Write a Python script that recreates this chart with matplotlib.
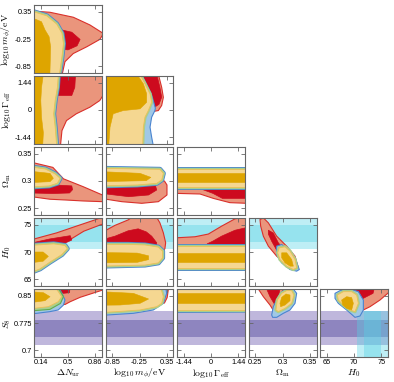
import matplotlib
matplotlib.use("Agg")
import matplotlib.pyplot as plt
from matplotlib.patches import Polygon

plt.rcParams['mathtext.fontset'] = 'cm'
plt.rcParams['axes.unicode_minus'] = False

# ---------------- parameters / axes ----------------
params = ["dN", "logm", "logG", "Om", "H0", "S8"]
param_labels = [r"$\Delta N_{\rm ur}$", r"$\log_{10} m_\phi/{\rm eV}$", r"$\log_{10}\Gamma_{\rm eff}$",
                r"$\Omega_{\rm m}$", r"$H_0$", r"$S_8$"]
param_lims = [(0.05, 0.95), (-1.0, 0.5), (-1.8, 1.8), (0.2375, 0.3625), (63.75, 76.25), (0.68125, 0.86875)]
param_ticks = [[0.14, 0.5, 0.86], [-0.85, -0.25, 0.35], [-1.44, 0, 1.44],
               [0.25, 0.3, 0.35], [65, 70, 75], [0.7, 0.775, 0.85]]
param_ticklabels = [["0.14", "0.5", "0.86"], ["-0.85", "-0.25", "0.35"], ["-1.44", "0", "1.44"],
                    ["0.25", "0.3", "0.35"], ["65", "70", "75"], ["0.7", "0.775", "0.85"]]

# external priors (bands)
H0_1sig = (71.9, 74.9)
H0_2sig = (70.6, 76.3)
S8_1sig = (0.736, 0.783)
S8_2sig = (0.714, 0.808)

# ---------------- contours (data units) ----------------
# row 1: log10 m_phi vs dN
dN_m_red95 = [(0.0, 0.37), (0.26, 0.34), (0.57, 0.23), (0.79, 0.06), (0.97, -0.13), (0.92, -0.26), (0.75, -0.42),
              (0.57, -0.57), (0.46, -0.75), (0.42, -1.05), (0.0, -1.05)]
dN_m_red68 = [(0.30, 0.0), (0.46, -0.067), (0.55, -0.10), (0.66, -0.26), (0.62, -0.40), (0.50, -0.49), (0.30, -0.45)]
dN_m_yel95 = [(0.0, 0.36), (0.05, 0.35), (0.22, 0.26), (0.35, 0.08), (0.42, -0.125), (0.44, -0.35), (0.42, -0.64),
              (0.385, -1.05), (0.0, -1.05)]
dN_m_yel68 = [(0.0, 0.20), (0.05, 0.20), (0.15, 0.13), (0.196, -0.05), (0.25, -0.20), (0.27, -0.42), (0.26, -1.05),
              (0.0, -1.05)]

# row 2: log10 Gamma vs dN, logm
dN_G_red95 = [(0.0, 1.9), (0.96, 1.9), (0.96, 0.75), (0.92, 0.5), (0.79, 0.15), (0.61, -0.2), (0.48, -0.56),
              (0.42, -1.09), (0.40, -1.9), (0.0, -1.9)]
dN_G_red68 = [(0.35, 1.9), (0.60, 1.9), (0.59, 1.2), (0.55, 0.77), (0.35, 0.77)]
dN_G_yel95 = [(0.0, 1.9), (0.372, 1.9), (0.36, 1.2), (0.33, 0.5), (0.31, -0.2), (0.33, -0.9), (0.35, -1.9), (0.0, -1.9)]
dN_G_yel68 = [(0.0, 1.9), (0.174, 1.9), (0.15, 1.2), (0.14, 0.5), (0.15, -0.4), (0.174, -1.2), (0.165, -1.9),
              (0.0, -1.9)]

m_G_red95 = [(-0.3, 1.9), (0.165, 1.9), (0.239, 1.2), (0.276, 0.67), (0.239, 0.24), (0.165, -0.03), (0.0, -0.1),
             (-0.3, -0.3)]
m_G_red68 = [(-0.3, 1.9), (0.13, 1.9), (0.20, 1.2), (0.24, 0.68), (0.18, 0.3), (0.05, 0.1), (-0.3, 0.0)]
m_G_blue95 = [(-1.1, 1.9), (-0.21, 1.9), (-0.10, 1.385), (0.01, 0.856), (0.06, 0.45), (0.10, 0.1), (0.09, -0.03),
              (0.018, -0.38), (-0.018, -0.909), (0.018, -1.44), (0.055, -1.9), (-1.1, -1.9)]
m_G_yel95 = [(-1.1, 1.9), (-0.239, 1.9), (-0.129, 1.385), (-0.018, 0.856), (0.018, 0.41), (-0.055, -0.027),
             (-0.129, -0.38), (-0.165, -0.909), (-0.18, -1.9), (-1.1, -1.9)]
m_G_yel68 = [(-1.1, 1.9), (-0.31, 1.9), (-0.165, 1.385), (-0.092, 0.856), (-0.092, 0.41), (-0.239, 0.06),
             (-0.607, -0.03), (-0.83, -0.2), (-0.90, -0.91), (-0.93, -1.9), (-1.1, -1.9)]

# row 3: Omega_m
dN_Om_red95 = [(0.0, 0.335), (0.30, 0.325), (0.44, 0.304), (0.70, 0.2896), (0.96, 0.274), (0.96, 0.262),
               (0.70, 0.2633), (0.48, 0.265), (0.26, 0.2665), (0.0, 0.2715)]
dN_Om_red68 = [(0.0, 0.295), (0.55, 0.291), (0.56, 0.284), (0.52, 0.278), (0.30, 0.277), (0.0, 0.278)]
dN_Om_yel95 = [(0.0, 0.326), (0.20, 0.322), (0.33, 0.313), (0.395, 0.305), (0.36, 0.296), (0.25, 0.291),
               (0.0, 0.289)]
dN_Om_yel68 = [(0.0, 0.318), (0.262, 0.314), (0.306, 0.305), (0.262, 0.2988), (0.0, 0.297)]

m_Om_red95 = [(-1.1, 0.30), (0.3, 0.30), (0.356, 0.2927), (0.356, 0.2743), (0.167, 0.262), (-0.2, 0.259),
              (-0.64, 0.262), (-1.1, 0.268)]
m_Om_red68 = [(-1.1, 0.292), (0.10, 0.292), (0.13, 0.2835), (-0.05, 0.2743), (-0.49, 0.2712), (-1.1, 0.2773)]
m_Om_yel95 = [(-1.1, 0.3233), (0.20, 0.3215), (0.276, 0.3141), (0.24, 0.302), (0.13, 0.2957), (-0.3, 0.2927),
              (-1.1, 0.291)]
m_Om_yel68 = [(-1.1, 0.3172), (-0.24, 0.3141), (0.0, 0.3067), (-0.1, 0.3006), (-1.1, 0.2988)]

G_Om_red95 = [(-1.9, 0.295), (1.9, 0.295), (1.9, 0.259), (1.0, 0.2602), (0.12, 0.2681), (-0.58, 0.2761),
              (-1.9, 0.2773)]
G_Om_red68 = [(-0.5, 0.2865), (1.9, 0.2865), (1.9, 0.2681), (0.6, 0.2681), (0.1, 0.2773), (-0.5, 0.2850)]
G_Om_yel95 = [(-1.9, 0.3215), (1.9, 0.3215), (1.9, 0.2896), (-1.9, 0.2896)]
G_Om_yel68 = [(-1.9, 0.314), (1.9, 0.314), (1.9, 0.2988), (-1.9, 0.2988)]

# row 4: H0
dN_H0_red95 = [(0.0, 72.2), (0.35, 73.52), (0.61, 74.75), (0.87, 75.97), (0.97, 76.5), (0.97, 75.2), (0.71, 73.83),
               (0.53, 72.3), (0.35, 71.2), (0.17, 70.46), (0.0, 69.7)]
dN_H0_red68 = [(0.0, 71.6), (0.26, 72.4), (0.53, 73.0), (0.55, 72.2), (0.44, 71.5), (0.22, 71.1), (0.0, 70.8)]
dN_H0_yel95 = [(0.0, 71.2), (0.31, 71.5), (0.46, 71.2), (0.49, 70.6), (0.42, 69.54), (0.26, 68.13), (0.13, 66.9),
               (0.0, 66.2)]
dN_H0_yel68 = [(0.0, 70.0), (0.17, 70.0), (0.24, 69.2), (0.17, 68.3), (0.0, 68.0)]

m_H0_red95 = [(-1.1, 73.5), (-0.79, 74.9), (-0.5, 75.9), (-0.4, 76.5), (0.12, 76.5), (0.2, 75.36), (0.276, 73.52),
              (0.327, 71.7), (0.31, 70.6), (0.2, 69.5), (-1.1, 69.5)]
m_H0_red68 = [(-1.1, 72.2), (-0.79, 72.91), (-0.5, 73.9), (-0.28, 74.26), (-0.1, 73.7), (0.02, 72.9),
              (0.13, 71.69), (0.1, 70.5), (-1.1, 70.5)]
m_H0_yel95 = [(-1.1, 71.4), (-0.5, 71.4), (-0.13, 71.3), (0.165, 70.9), (0.26, 70.15), (0.26, 68.93), (0.165, 68.0),
              (-0.13, 67.6), (-1.1, 67.4)]
m_H0_yel68 = [(-1.1, 69.9), (-0.3, 69.8), (-0.05, 69.3), (-0.05, 68.6), (-0.3, 68.1), (-1.1, 68.0)]

G_H0_red95 = [(-1.9, 72.6), (-0.85, 72.8), (-0.14, 73.3), (0.56, 74.75), (1.27, 76.1), (1.9, 76.5), (1.9, 70.5),
              (-1.9, 70.5)]
G_H0_red68 = [(-0.2, 71.5), (0.1, 72.0), (0.56, 72.91), (1.27, 74.0), (1.9, 74.5), (1.9, 70.8), (-0.2, 70.8)]
G_H0_yel95 = [(-1.9, 71.1), (1.9, 71.1), (1.9, 67.1), (-1.9, 67.1)]
G_H0_yel68 = [(-1.9, 69.9), (1.9, 69.9), (1.9, 68.1), (-1.9, 68.1)]

Om_H0_red95 = [(0.2586, 75.97), (0.2648, 76.28), (0.274, 75.36), (0.2893, 72.91), (0.3077, 71.07), (0.323, 69.23),
               (0.3291, 67.09), (0.323, 66.78), (0.3077, 67.7), (0.2893, 69.23), (0.274, 71.07), (0.2648, 72.91),
               (0.2599, 74.75)]
Om_H0_red68 = [(0.274, 74.0), (0.2831, 73.5), (0.2923, 71.69), (0.30, 70.8), (0.31, 69.5), (0.30, 69.0),
               (0.29, 70.2), (0.28, 72.0), (0.274, 73.3)]
Om_H0_blue95 = [(0.2893, 71.07), (0.2985, 71.38), (0.3107, 70.46), (0.323, 68.93), (0.3309, 66.78), (0.326, 66.48),
                (0.3138, 66.78), (0.2985, 68.01), (0.2893, 69.54)]
Om_H0_yel95 = [(0.2942, 70.77), (0.3046, 70.95), (0.3138, 70.15), (0.323, 68.62), (0.326, 67.09), (0.3199, 66.78),
               (0.3077, 67.4), (0.2954, 68.62), (0.2911, 69.85)]
Om_H0_yel68 = [(0.2985, 69.85), (0.3077, 69.85), (0.3168, 68.62), (0.3199, 67.4), (0.3138, 67.4), (0.3046, 68.01),
               (0.2985, 68.93)]

# row 5: S8
dN_S8_red95 = [(0.35, 0.88), (0.96, 0.88), (0.96, 0.866), (0.66, 0.8458), (0.53, 0.8338), (0.46, 0.826),
               (0.35, 0.83)]
dN_S8_red68 = [(0.40, 0.88), (0.53, 0.88), (0.52, 0.8586), (0.44, 0.8568), (0.40, 0.86)]
dN_S8_blue95 = [(0.0, 0.88), (0.36, 0.88), (0.42, 0.8568), (0.46, 0.8384), (0.44, 0.8246), (0.37, 0.8109),
                (0.26, 0.8063), (0.085, 0.8017), (0.0, 0.80)]
dN_S8_green95 = [(0.0, 0.88), (0.34, 0.88), (0.40, 0.8614), (0.44, 0.8476), (0.40, 0.829), (0.26, 0.8125),
                 (0.05, 0.809), (0.0, 0.809)]
dN_S8_yel95 = [(0.0, 0.88), (0.306, 0.88), (0.372, 0.8614), (0.416, 0.8476), (0.372, 0.8338), (0.24, 0.82),
               (0.05, 0.8154), (0.0, 0.815)]
dN_S8_yel68 = [(0.0, 0.8614), (0.174, 0.8586), (0.262, 0.8476), (0.196, 0.8366), (0.0, 0.831)]

m_S8_red95 = [(0.2, 0.88), (0.40, 0.88), (0.36, 0.845), (0.30, 0.83), (0.2, 0.83)]
m_S8_red68 = [(0.28, 0.88), (0.35, 0.88), (0.33, 0.862), (0.28, 0.862)]
m_S8_blue95 = [(-1.1, 0.88), (0.32, 0.88), (0.349, 0.8568), (0.276, 0.8292), (0.055, 0.8109), (-0.386, 0.8017),
               (-1.1, 0.796)]
m_S8_yel95 = [(-1.1, 0.88), (0.2, 0.88), (0.276, 0.8476), (0.239, 0.8292), (0.129, 0.82), (-0.239, 0.8109),
              (-0.754, 0.8063), (-1.1, 0.804)]
m_S8_yel68 = [(-1.1, 0.8614), (-0.386, 0.8568), (-0.05, 0.8412), (-0.239, 0.8292), (-0.68, 0.8246), (-1.1, 0.824)]

G_S8_blue95 = [(-1.9, 0.88), (1.9, 0.88), (1.9, 0.805), (-1.9, 0.804)]
G_S8_yel95 = [(-1.9, 0.88), (1.9, 0.88), (1.9, 0.811), (-1.9, 0.811)]
G_S8_yel68 = [(-1.9, 0.857), (1.9, 0.857), (1.9, 0.829), (-1.9, 0.829)]

Om_S8_red95 = [(0.252, 0.88), (0.2556, 0.8687), (0.2648, 0.8476), (0.277, 0.8246), (0.2831, 0.81), (0.2893, 0.82),
               (0.30, 0.85), (0.30, 0.88)]
Om_S8_red68 = [(0.2709, 0.88), (0.2709, 0.8687), (0.277, 0.8476), (0.2862, 0.8246), (0.2923, 0.8476),
               (0.2954, 0.8687), (0.2954, 0.88)]
Om_S8_blue95 = [(0.2801, 0.7971), (0.2831, 0.82), (0.2923, 0.8476), (0.2985, 0.8614), (0.3077, 0.8687),
                (0.3199, 0.8687), (0.326, 0.8568), (0.323, 0.8292), (0.3138, 0.8109), (0.3015, 0.8017),
                (0.2893, 0.7906), (0.2819, 0.7906)]
Om_S8_yel95 = [(0.288, 0.8109), (0.2905, 0.8384), (0.2985, 0.8568), (0.3077, 0.8642), (0.3168, 0.8642),
               (0.3211, 0.8522), (0.3168, 0.8292), (0.3046, 0.8154), (0.2923, 0.8063)]
Om_S8_yel68 = [(0.2954, 0.8292), (0.2985, 0.8458), (0.3064, 0.855), (0.3138, 0.8522), (0.3138, 0.8366),
               (0.3046, 0.8246), (0.2966, 0.82)]

H0_S8_red95 = [(69.0, 0.88), (76.6, 0.88), (76.6, 0.862), (74.78, 0.8384), (72.94, 0.82), (71.72, 0.8109),
               (70.5, 0.83), (69.0, 0.86)]
H0_S8_red68 = [(69.88, 0.88), (73.86, 0.88), (73.5, 0.8568), (72.3, 0.8476), (71.1, 0.8384), (69.88, 0.86)]
H0_S8_blue95 = [(66.51, 0.8568), (67.43, 0.8642), (69.26, 0.8687), (70.8, 0.8614), (71.72, 0.8384), (71.72, 0.8109),
                (71.1, 0.7943), (70.18, 0.7906), (68.65, 0.8109), (67.12, 0.8292), (66.51, 0.843)]
H0_S8_yel95 = [(66.94, 0.8522), (68.04, 0.8614), (69.57, 0.8614), (70.49, 0.8522), (70.8, 0.8292), (70.18, 0.8063),
               (69.26, 0.8109), (68.04, 0.8246), (67.12, 0.8384)]
H0_S8_yel68 = [(67.73, 0.8384), (68.65, 0.8476), (69.57, 0.845), (69.88, 0.8292), (69.57, 0.8109), (68.65, 0.8154),
               (67.92, 0.8246)]

# panel table: (row, col, layers)
panels = [
    (0, 0, dict(red95=dN_m_red95, red68=dN_m_red68, yel95=dN_m_yel95, yel68=dN_m_yel68)),
    (1, 0, dict(red95=dN_G_red95, red68=dN_G_red68, yel95=dN_G_yel95, yel68=dN_G_yel68)),
    (1, 1, dict(red95=m_G_red95, red68=m_G_red68, blue95=m_G_blue95, yel95=m_G_yel95, yel68=m_G_yel68)),
    (2, 0, dict(red95=dN_Om_red95, red68=dN_Om_red68, yel95=dN_Om_yel95, yel68=dN_Om_yel68)),
    (2, 1, dict(red95=m_Om_red95, red68=m_Om_red68, yel95=m_Om_yel95, yel68=m_Om_yel68)),
    (2, 2, dict(red95=G_Om_red95, red68=G_Om_red68, yel95=G_Om_yel95, yel68=G_Om_yel68)),
    (3, 0, dict(red95=dN_H0_red95, red68=dN_H0_red68, yel95=dN_H0_yel95, yel68=dN_H0_yel68)),
    (3, 1, dict(red95=m_H0_red95, red68=m_H0_red68, yel95=m_H0_yel95, yel68=m_H0_yel68)),
    (3, 2, dict(red95=G_H0_red95, red68=G_H0_red68, yel95=G_H0_yel95, yel68=G_H0_yel68)),
    (3, 3, dict(red95=Om_H0_red95, red68=Om_H0_red68, blue95=Om_H0_blue95, yel95=Om_H0_yel95, yel68=Om_H0_yel68)),
    (4, 0, dict(red95=dN_S8_red95, red68=dN_S8_red68, blue95=dN_S8_blue95, green95=dN_S8_green95,
                yel95=dN_S8_yel95, yel68=dN_S8_yel68)),
    (4, 1, dict(red95=m_S8_red95, red68=m_S8_red68, blue95=m_S8_blue95, yel95=m_S8_yel95, yel68=m_S8_yel68)),
    (4, 2, dict(blue95=G_S8_blue95, yel95=G_S8_yel95, yel68=G_S8_yel68)),
    (4, 3, dict(red95=Om_S8_red95, red68=Om_S8_red68, blue95=Om_S8_blue95, yel95=Om_S8_yel95, yel68=Om_S8_yel68)),
    (4, 4, dict(red95=H0_S8_red95, red68=H0_S8_red68, blue95=H0_S8_blue95, yel95=H0_S8_yel95, yel68=H0_S8_yel68)),
]

# ---------------- style ----------------
C_SALMON, C_RED_EDGE, C_DARKRED = "#EA957C", "#D9302B", "#CD0A1E"
C_BLUE, C_BLUE_EDGE = "#A0C8E6", "#4A84D0"
C_GREEN, C_GREEN_EDGE = "#A8CF8E", "#62AD4C"
C_YEL, C_YEL_EDGE, C_GOLD = "#F5D791", "#EDBF55", "#DEA500"
C_CYAN, A_CYAN = "#56D3E5", 0.38
C_PURP_L, C_PURP_D = "#BFB7DC", "#8E85BF"
SPINE = "#666666"
TICKFONT = "Liberation Sans"

fig = plt.figure(figsize=(3.94, 3.82), dpi=100)
FW, FH = 394.0, 382.0


def add_poly(ax, pts, **kw):
    ax.add_patch(Polygon(pts, closed=True, joinstyle="round", **kw))


for (i, j, layers) in panels:
    left = (34 + 71.5 * j) / FW
    bottom = 1 - (5 + 71 * i + 68) / FH
    ax = fig.add_axes([left, bottom, 68 / FW, 68 / FH])
    xp, yp = j, i + 1
    ax.set_xlim(*param_lims[xp])
    ax.set_ylim(*param_lims[yp])

    # bands
    if params[yp] == "H0":
        ax.axhspan(*H0_2sig, color=C_CYAN, alpha=A_CYAN, lw=0, zorder=0)
        ax.axhspan(*H0_1sig, color=C_CYAN, alpha=A_CYAN, lw=0, zorder=0)
    if params[yp] == "S8":
        ax.axhspan(*S8_2sig, color=C_PURP_L, lw=0, zorder=0)
        ax.axhspan(*S8_1sig, color=C_PURP_D, lw=0, zorder=0)
    if params[xp] == "H0":
        lo = param_lims[yp][0]
        ax.fill_between(H0_2sig, lo, S8_2sig[1], color=C_CYAN, alpha=A_CYAN, lw=0, zorder=0.5)
        ax.fill_between(H0_1sig, lo, S8_2sig[1], color=C_CYAN, alpha=A_CYAN, lw=0, zorder=0.5)

    # contours
    if "red95" in layers:
        add_poly(ax, layers["red95"], facecolor=C_SALMON, edgecolor=C_RED_EDGE, lw=0.8, zorder=1)
    if "red68" in layers:
        add_poly(ax, layers["red68"], facecolor=C_DARKRED, edgecolor=C_DARKRED, lw=0.5, zorder=1.1)
    y95 = layers["yel95"]
    if "blue95" in layers:
        add_poly(ax, layers["blue95"], facecolor=C_BLUE, edgecolor=C_BLUE_EDGE, lw=0.8, zorder=2)
    else:
        add_poly(ax, y95, fill=False, edgecolor=C_BLUE_EDGE, lw=3.6, zorder=2)
    if "green95" in layers:
        add_poly(ax, layers["green95"], facecolor=C_GREEN, edgecolor=C_GREEN_EDGE, lw=0.8, zorder=3)
    else:
        add_poly(ax, y95, fill=False, edgecolor=C_GREEN, lw=2.4, zorder=3)
    add_poly(ax, y95, facecolor=C_YEL, edgecolor=C_YEL_EDGE, lw=0.6, zorder=4)
    add_poly(ax, layers["yel68"], facecolor=C_GOLD, edgecolor=C_GOLD, lw=0.4, zorder=5)

    # ticks
    ax.set_xticks(param_ticks[xp])
    ax.set_yticks(param_ticks[yp])
    ax.tick_params(direction="in", top=True, right=True, length=3, width=0.6, colors=SPINE,
                   labelcolor="black", pad=1.5)
    if i == 4:
        ax.set_xticklabels(param_ticklabels[xp], fontsize=5.3, family=TICKFONT)
        ax.set_xlabel(param_labels[xp], fontsize=7)
        ax.xaxis.set_label_coords(0.5, -0.15)
    else:
        ax.set_xticklabels([])
    if j == 0:
        ax.set_yticklabels(param_ticklabels[yp], fontsize=5.3, family=TICKFONT)
        ax.set_ylabel(param_labels[yp], fontsize=7)
        ax.yaxis.set_label_coords(-0.31, 0.5)
    else:
        ax.set_yticklabels([])
    for s in ax.spines.values():
        s.set_color(SPINE)
        s.set_linewidth(0.8)
        s.set_zorder(10)

fig.savefig("out.png", dpi=100)
